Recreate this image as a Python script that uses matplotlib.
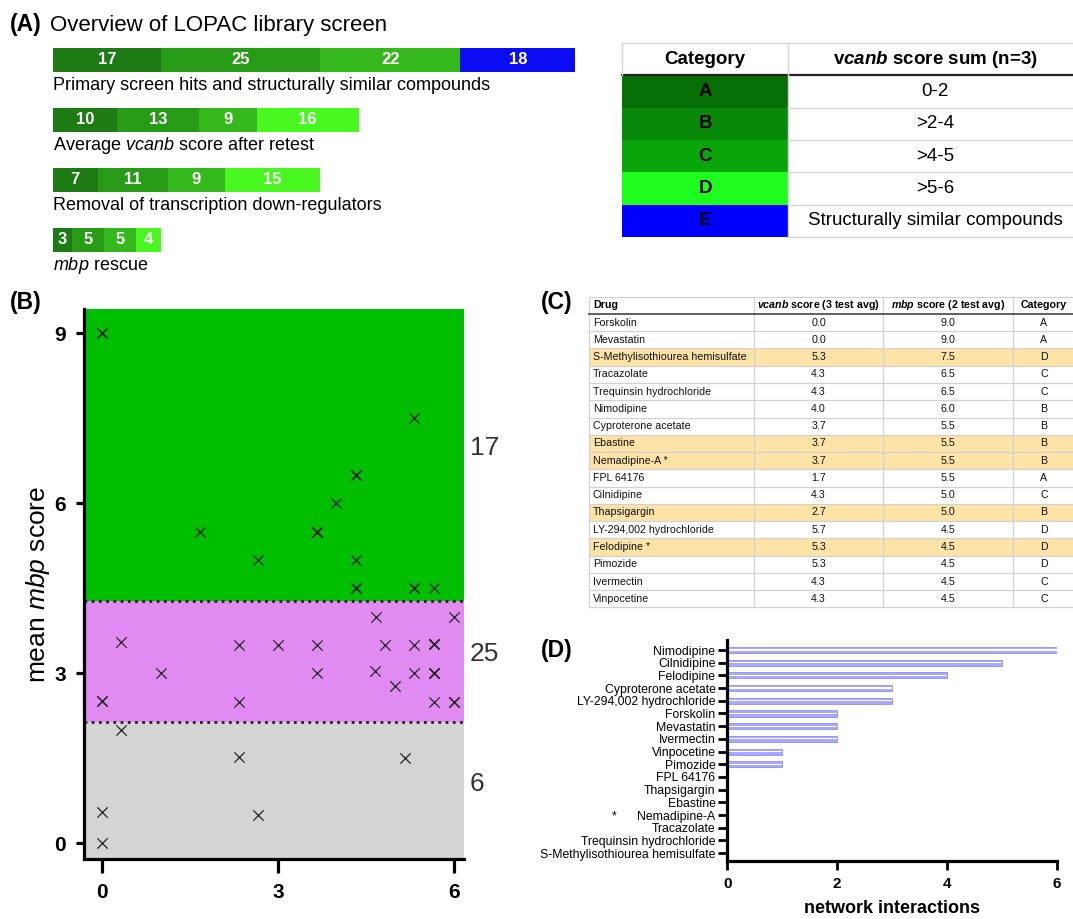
import matplotlib
matplotlib.use('Agg')
import matplotlib.pyplot as plt
import numpy as np
from matplotlib.patches import Rectangle

plt.rcParams['font.family'] = ['Liberation Sans', 'DejaVu Sans']
plt.rcParams['mathtext.fontset'] = 'custom'
plt.rcParams['mathtext.rm'] = 'Liberation Sans'
plt.rcParams['mathtext.it'] = 'Liberation Sans:italic'
plt.rcParams['mathtext.bf'] = 'Liberation Sans:bold'
plt.rcParams['mathtext.cal'] = 'Liberation Sans:italic:bold'

# ---------------- Panel A data ----------------
a_stages = ['Primary screen hits and structurally similar compounds',
            'Average $\\mathit{vcanb}$ score after retest',
            'Removal of transcription down-regulators',
            '$\\mathit{mbp}$ rescue']
a_cat_A = [17, 10, 7, 3]
a_cat_B = [25, 13, 11, 5]
a_cat_C = [22, 9, 9, 5]
a_cat_D = [0, 16, 15, 4]
a_cat_E = [18, 0, 0, 0]

legend_cats = ['A', 'B', 'C', 'D', 'E']
legend_ranges = ['0-2', '>2-4', '>4-5', '>5-6', 'Structurally similar compounds']

# ---------------- Panel B data ----------------
b_green_x = [0.0, 0.0, 5.33, 4.33, 4.33, 4.0, 3.67, 3.67, 3.67, 1.67, 4.33, 2.67, 5.67, 5.33, 5.33, 4.33, 4.33]
b_green_y = [9.0, 9.0, 7.5, 6.5, 6.5, 6.0, 5.5, 5.5, 5.5, 5.5, 5.0, 5.0, 4.5, 4.5, 4.5, 4.5, 4.5]
b_pink_x = [4.67, 6.0, 0.33, 2.33, 3.0, 3.67, 4.82, 5.33, 5.67, 5.67, 5.67,
            1.0, 3.67, 4.65, 5.33, 5.67, 5.67, 5.67, 5.0, 0.0, 0.0, 2.33, 5.67, 6.0, 6.0]
b_pink_y = [4.0, 4.0, 3.55, 3.5, 3.5, 3.5, 3.5, 3.5, 3.52, 3.52, 3.52,
            3.0, 3.0, 3.04, 3.0, 3.0, 3.0, 3.0, 2.77, 2.52, 2.52, 2.5, 2.5, 2.5, 2.5]
b_gray_x = [0.33, 2.33, 5.17, 0.0, 2.67, 0.0]
b_gray_y = [2.0, 1.52, 1.5, 0.55, 0.5, 0.0]
b_thr_hi = 4.28
b_thr_lo = 2.15

# ---------------- Panel C data ----------------
c_drugs = ['Forskolin', 'Mevastatin', 'S-Methylisothiourea hemisulfate', 'Tracazolate',
           'Trequinsin hydrochloride', 'Nimodipine', 'Cyproterone acetate', 'Ebastine',
           'Nemadipine-A *', 'FPL 64176', 'Cilnidipine', 'Thapsigargin',
           'LY-294,002 hydrochloride', 'Felodipine *', 'Pimozide', 'Ivermectin', 'Vinpocetine']
c_vcanb = [0.0, 0.0, 5.3, 4.3, 4.3, 4.0, 3.7, 3.7, 3.7, 1.7, 4.3, 2.7, 5.7, 5.3, 5.3, 4.3, 4.3]
c_mbp = [9.0, 9.0, 7.5, 6.5, 6.5, 6.0, 5.5, 5.5, 5.5, 5.5, 5.0, 5.0, 4.5, 4.5, 4.5, 4.5, 4.5]
c_cat = ['A', 'A', 'D', 'C', 'C', 'B', 'B', 'B', 'B', 'A', 'C', 'B', 'D', 'D', 'D', 'C', 'C']
c_highlight = ['S-Methylisothiourea hemisulfate', 'Ebastine', 'Nemadipine-A *', 'Thapsigargin', 'Felodipine *']
c_headers = ['Drug', '$\\mathcal{vcanb}$ score (3 test avg)', '$\\mathcal{mbp}$ score (2 test avg)', 'Category']

# ---------------- Panel D data ----------------
d_drugs = ['Nimodipine', 'Cilnidipine', 'Felodipine', 'Cyproterone acetate', 'LY-294,002 hydrochloride',
           'Forskolin', 'Mevastatin', 'Ivermectin', 'Vinpocetine', 'Pimozide', 'FPL 64176',
           'Thapsigargin', 'Ebastine', '*      Nemadipine-A', 'Tracazolate', 'Trequinsin hydrochloride',
           'S-Methylisothiourea hemisulfate']
d_interactions = [6, 5, 4, 3, 3, 2, 2, 2, 1, 1, 0, 0, 0, 0, 0, 0, 0]

# ---------------- Figure ----------------
W, H = 1073, 919
fig = plt.figure(figsize=(W / 100, H / 100), dpi=100)


def px_rect(x0, y0, x1, y1):
    return [x0 / W, 1 - y1 / H, (x1 - x0) / W, (y1 - y0) / H]


def ftxt(x, y, s, **kw):
    fig.text(x / W, 1 - y / H, s, **kw)


ftxt(10, 25, '(A)', fontsize=16.5, fontweight='bold', va='center')
ftxt(50, 25, 'Overview of LOPAC library screen', fontsize=16, va='center')
ftxt(10, 302, '(B)', fontsize=16.5, fontweight='bold', va='center')
ftxt(541, 302, '(C)', fontsize=16.5, fontweight='bold', va='center')
ftxt(541, 650, '(D)', fontsize=16.5, fontweight='bold', va='center')

# ---- Panel A bars ----
bar_colors = ['#1d7b13', '#279a16', '#34b81b', '#47f71f', '#0c0cf4']
axA = fig.add_axes(px_rect(53, 30, 53 + 573, 270))
axA.set_xlim(0, 90)
axA.set_ylim(3.5, -0.5)
axA.axis('off')
rows = np.arange(len(a_stages))
left = np.zeros(len(a_stages))
for vals, col in zip([a_cat_A, a_cat_B, a_cat_C, a_cat_D, a_cat_E], bar_colors):
    vals = np.array(vals, dtype=float)
    axA.barh(rows, vals, left=left, height=0.4, color=col, linewidth=0)
    for r, v, l in zip(rows, vals, left):
        if v > 0:
            axA.text(l + v / 2, r, str(int(v)), ha='center', va='center', color='white',
                     fontweight='bold', fontsize=12)
    left = left + vals
for r, lab in zip(rows, a_stages):
    axA.text(0, r + 0.43, lab, ha='left', va='center', fontsize=13)

# ---- Legend table ----
leg_colors = ['#067006', '#098909', '#0aa50a', '#1efd1e', '#0000fe']
axT = fig.add_axes(px_rect(622, 43, 1082, 237))
axT.set_xlim(0, 1)
axT.set_ylim(6, 0)
axT.axis('off')
split = 0.3615
for i, (c, rng, col) in enumerate(zip(legend_cats, legend_ranges, leg_colors)):
    r = i + 1
    axT.add_patch(Rectangle((0, r), split, 1, color=col, lw=0))
    axT.text(split / 2, r + 0.5, c, ha='center', va='center', fontsize=13.5, fontweight='bold', color='black')
    axT.text((split + 1) / 2, r + 0.5, rng, ha='center', va='center', fontsize=13.5)
axT.text(split / 2, 0.5, 'Category', ha='center', va='center', fontsize=13.5, fontweight='bold')
axT.text((split + 1) / 2, 0.5, 'v$\\mathcal{canb}$ score sum (n=3)', ha='center', va='center',
         fontsize=13.5, fontweight='bold')
axT.plot([0, 1], [0, 0], color='#d5d5d5', lw=1, clip_on=False)
axT.plot([0, 1], [1, 1], color='#222222', lw=1.6, clip_on=False)
for r in range(2, 7):
    axT.plot([split, 1], [r, r], color='#d5d5d5', lw=1, clip_on=False)
axT.plot([split, split], [0, 6], color='#d5d5d5', lw=1, clip_on=False)
axT.plot([0, 0], [0, 1], color='#d5d5d5', lw=1, clip_on=False)

# ---- Panel B scatter ----
axB = fig.add_axes(px_rect(84.3, 309, 464.3, 859.3))
ylo, yhi = -0.28, 9.43
axB.set_xlim(-0.30, 6.18)
axB.set_ylim(ylo, yhi)
axB.axhspan(b_thr_hi, yhi, color='#00bf00', lw=0, zorder=0)
axB.axhspan(b_thr_lo, b_thr_hi, color='#e08af2', lw=0, zorder=0)
axB.axhspan(ylo, b_thr_lo, color='#d4d4d4', lw=0, zorder=0)
for t in (b_thr_hi, b_thr_lo):
    axB.axhline(t, color='#222222', lw=2, ls=(0, (1, 1.6)), zorder=1)
for xs, ys in ((b_green_x, b_green_y), (b_pink_x, b_pink_y), (b_gray_x, b_gray_y)):
    axB.scatter(xs, ys, marker='x', s=55, color='#222222', linewidths=0.9, zorder=3)
groups = [(b_green_x, b_thr_hi, yhi), (b_pink_x, b_thr_lo, b_thr_hi), (b_gray_x, ylo, b_thr_lo)]
for xs, lo, hi in groups:
    axB.text(6.27, (lo + hi) / 2 + 0.12, str(len(xs)), fontsize=19, color='#333333',
             ha='left', va='center', clip_on=False)
for s in ('top', 'right'):
    axB.spines[s].set_visible(False)
for s in ('left', 'bottom'):
    axB.spines[s].set_linewidth(2.3)
axB.set_xticks([0, 3, 6])
axB.set_yticks([0, 3, 6, 9])
axB.tick_params(axis='x', length=10, width=2.3, pad=7, labelsize=15)
axB.tick_params(axis='y', length=6, width=2.3, pad=7, labelsize=15)
for lab in axB.get_xticklabels() + axB.get_yticklabels():
    lab.set_fontweight('bold')
axB.set_ylabel('mean $\\mathit{mbp}$ score', fontsize=19)
axB.yaxis.set_label_coords(-0.085, 0.5)

# ---- Panel C table ----
axC = fig.add_axes(px_rect(589, 296.7, 1075, 607.4))
nrow = len(c_drugs) + 1
axC.set_xlim(0, 1)
axC.set_ylim(nrow, 0)
axC.axis('off')
col_edges = [0, 0.3395, 0.6056, 0.8718, 1.0]
centers = [(col_edges[k] + col_edges[k + 1]) / 2 for k in range(4)]
for i, d in enumerate(c_drugs):
    if d in c_highlight:
        axC.add_patch(Rectangle((0, i + 1), 1, 1, color='#fde3a6', lw=0))
tfs = 7.7
axC.text(0.008, 0.5, c_headers[0], ha='left', va='center', fontsize=tfs, fontweight='bold')
for k in range(1, 4):
    axC.text(centers[k], 0.5, c_headers[k], ha='center', va='center', fontsize=tfs, fontweight='bold')
for i, (d, v, m, c) in enumerate(zip(c_drugs, c_vcanb, c_mbp, c_cat)):
    y = i + 1.5
    axC.text(0.008, y, d, ha='left', va='center', fontsize=tfs, color='#111111')
    axC.text(centers[1], y, f'{v:.1f}', ha='center', va='center', fontsize=tfs, color='#111111')
    axC.text(centers[2], y, f'{m:.1f}', ha='center', va='center', fontsize=tfs, color='#111111')
    axC.text(centers[3], y, c, ha='center', va='center', fontsize=tfs, color='#111111')
for r in range(nrow + 1):
    if r == 1:
        axC.plot([0, 1], [r, r], color='#444444', lw=1.2, clip_on=False, zorder=3)
    else:
        axC.plot([0, 1], [r, r], color='#d2d2d2', lw=0.9, clip_on=False, zorder=2)
for xe in col_edges[:-1]:
    axC.plot([xe, xe], [0, nrow], color='#d2d2d2', lw=0.9, clip_on=False, zorder=2)

# ---- Panel D bars ----
axD = fig.add_axes(px_rect(727.3, 640, 1056.7, 860.7))
yd = np.arange(len(d_drugs))
axD.barh(yd, d_interactions, height=0.48, color='#a9a9ff', edgecolor='#8e8ef2', lw=0.6)
axD.barh(yd, d_interactions, height=0.1, color='white', lw=0)
axD.set_xlim(0, 6)
axD.set_ylim(len(d_drugs) - 0.4, -0.79)
axD.set_yticks(yd)
axD.set_yticklabels(d_drugs, fontsize=8.8)
axD.set_xticks([0, 2, 4, 6])
for s in ('top', 'right'):
    axD.spines[s].set_visible(False)
for s in ('left', 'bottom'):
    axD.spines[s].set_linewidth(2.3)
axD.tick_params(axis='y', length=6.5, width=2, pad=2)
axD.tick_params(axis='x', length=6.5, width=2, pad=5, labelsize=11)
for lab in axD.get_xticklabels():
    lab.set_fontweight('bold')
axD.set_xlabel('network interactions', fontsize=13, fontweight='bold', labelpad=7)

fig.savefig('out.png', dpi=100)
